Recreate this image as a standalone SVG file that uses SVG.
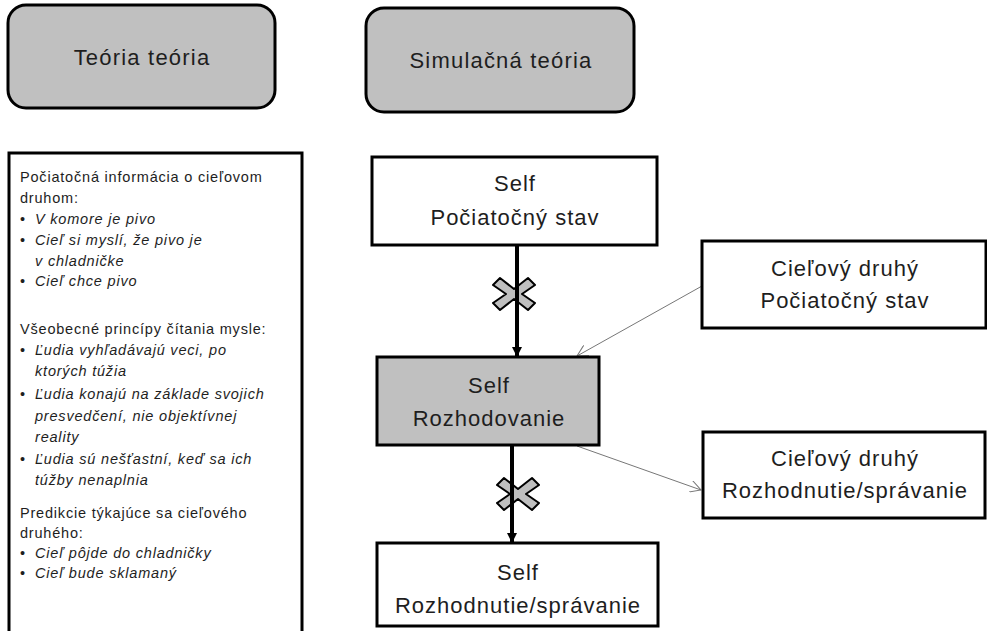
<svg xmlns="http://www.w3.org/2000/svg" width="987" height="631" viewBox="0 0 987 631">
<defs>
<style>
text{font-family:"Liberation Sans",Arial,sans-serif;fill:#1e1e1e}
.hdr{fill:#c0c0c0;stroke:#000;stroke-width:3}
.box{fill:#fff;stroke:#000;stroke-width:3}
.gbox{fill:#c0c0c0;stroke:#000;stroke-width:3}
.big{font-size:22px;letter-spacing:1.2px;text-anchor:middle}
.mid{font-size:22px;letter-spacing:1px;text-anchor:middle}
.sm{font-size:14.5px;letter-spacing:0.8px}
.it{font-size:14.5px;letter-spacing:0.8px;font-style:italic}
.thick{stroke:#000;stroke-width:4;fill:none}
.thin{stroke:#777;stroke-width:1;fill:none}
.xmark{fill:#bfbfbf;stroke:#000;stroke-width:2;stroke-linejoin:round}
</style>
<marker id="ah" viewBox="0 0 10 10" refX="9" refY="5" markerWidth="2.5" markerHeight="2.5" orient="auto" markerUnits="strokeWidth">
<path d="M0,0 L10,5 L0,10 z" fill="#000"/>
</marker>
<marker id="oa" viewBox="0 0 12 12" refX="11" refY="6" markerWidth="12" markerHeight="12" orient="auto" markerUnits="userSpaceOnUse">
<path d="M0,0 L11,6 L0,12" fill="none" stroke="#777" stroke-width="1"/>
</marker>
<path id="xm" class="xmark" d="M-21,-9 L-14,-16 L0,-5 L14,-16 L21,-9 L8,0 L21,9 L14,16 L0,5 L-14,16 L-21,9 L-8,0 Z"/>
</defs>
<rect width="987" height="631" fill="#fff"/>

<g id="hdr-teoria">
<rect class="hdr" x="8" y="5" width="267" height="103" rx="18"/>
<text class="big" x="142" y="65">Teória teória</text>
</g>
<g id="hdr-simulacna">
<rect class="hdr" x="366" y="8" width="268" height="104" rx="18"/>
<text class="big" x="501" y="68">Simulačná teória</text>
</g>

<g id="teoria-list">
<rect class="box" x="9" y="153" width="293" height="490"/>
<text class="sm" x="20" y="182">Počiatočná informácia o cieľovom</text>
<text class="sm" x="20" y="203">druhom:</text>
<text class="sm" x="20" y="224">•</text><text class="it" x="35" y="224">V komore je pivo</text>
<text class="sm" x="20" y="245">•</text><text class="it" x="35" y="245">Cieľ si myslí, že pivo je</text>
<text class="it" x="35" y="266">v chladničke</text>
<text class="sm" x="20" y="286">•</text><text class="it" x="35" y="286">Cieľ chce pivo</text>
<text class="sm" x="20" y="334">Všeobecné princípy čítania mysle:</text>
<text class="sm" x="20" y="355">•</text><text class="it" x="35" y="355">Ľudia vyhľadávajú veci, po</text>
<text class="it" x="35" y="376">ktorých túžia</text>
<text class="sm" x="20" y="399">•</text><text class="it" x="35" y="399">Ľudia konajú na základe svojich</text>
<text class="it" x="35" y="421">presvedčení, nie objektívnej</text>
<text class="it" x="35" y="442">reality</text>
<text class="sm" x="20" y="464">•</text><text class="it" x="35" y="464">Ľudia sú nešťastní, keď sa ich</text>
<text class="it" x="35" y="485">túžby nenaplnia</text>
<text class="sm" x="20" y="518">Predikcie týkajúce sa cieľového</text>
<text class="sm" x="20" y="538">druhého:</text>
<text class="sm" x="20" y="558">•</text><text class="it" x="35" y="558">Cieľ pôjde do chladničky</text>
<text class="sm" x="20" y="578">•</text><text class="it" x="35" y="578">Cieľ bude sklamaný</text>
</g>

<g id="connectors">
<use href="#xm" x="514" y="294"/>
<line class="thick" x1="517" y1="246" x2="517" y2="356" marker-end="url(#ah)"/>
<use href="#xm" x="518" y="494"/>
<line class="thick" x1="512" y1="446" x2="512" y2="542" marker-end="url(#ah)"/>
<line class="thin" x1="702" y1="286" x2="577" y2="356" marker-end="url(#oa)"/>
<line class="thin" x1="577" y1="446" x2="701" y2="490" marker-end="url(#oa)"/>
</g>

<g id="self-pociatocny">
<rect class="box" x="372" y="157" width="285" height="88"/>
<text class="mid" x="515" y="191">Self</text>
<text class="mid" x="515" y="225">Počiatočný stav</text>
</g>
<g id="self-rozhodovanie">
<rect class="gbox" x="377" y="357" width="222" height="88"/>
<text class="mid" x="489" y="393">Self</text>
<text class="mid" x="489" y="426">Rozhodovanie</text>
</g>
<g id="self-rozhodnutie">
<rect class="box" x="377" y="543" width="281" height="83"/>
<text class="mid" x="518" y="580">Self</text>
<text class="mid" x="518" y="613">Rozhodnutie/správanie</text>
</g>
<g id="ciel-pociatocny">
<rect class="box" x="702" y="241" width="284" height="87"/>
<text class="mid" x="845" y="276">Cieľový druhý</text>
<text class="mid" x="845" y="308">Počiatočný stav</text>
</g>
<g id="ciel-rozhodnutie">
<rect class="box" x="703" y="432" width="282" height="86"/>
<text class="mid" x="845" y="466">Cieľový druhý</text>
<text class="mid" x="845" y="498">Rozhodnutie/správanie</text>
</g>
</svg>
